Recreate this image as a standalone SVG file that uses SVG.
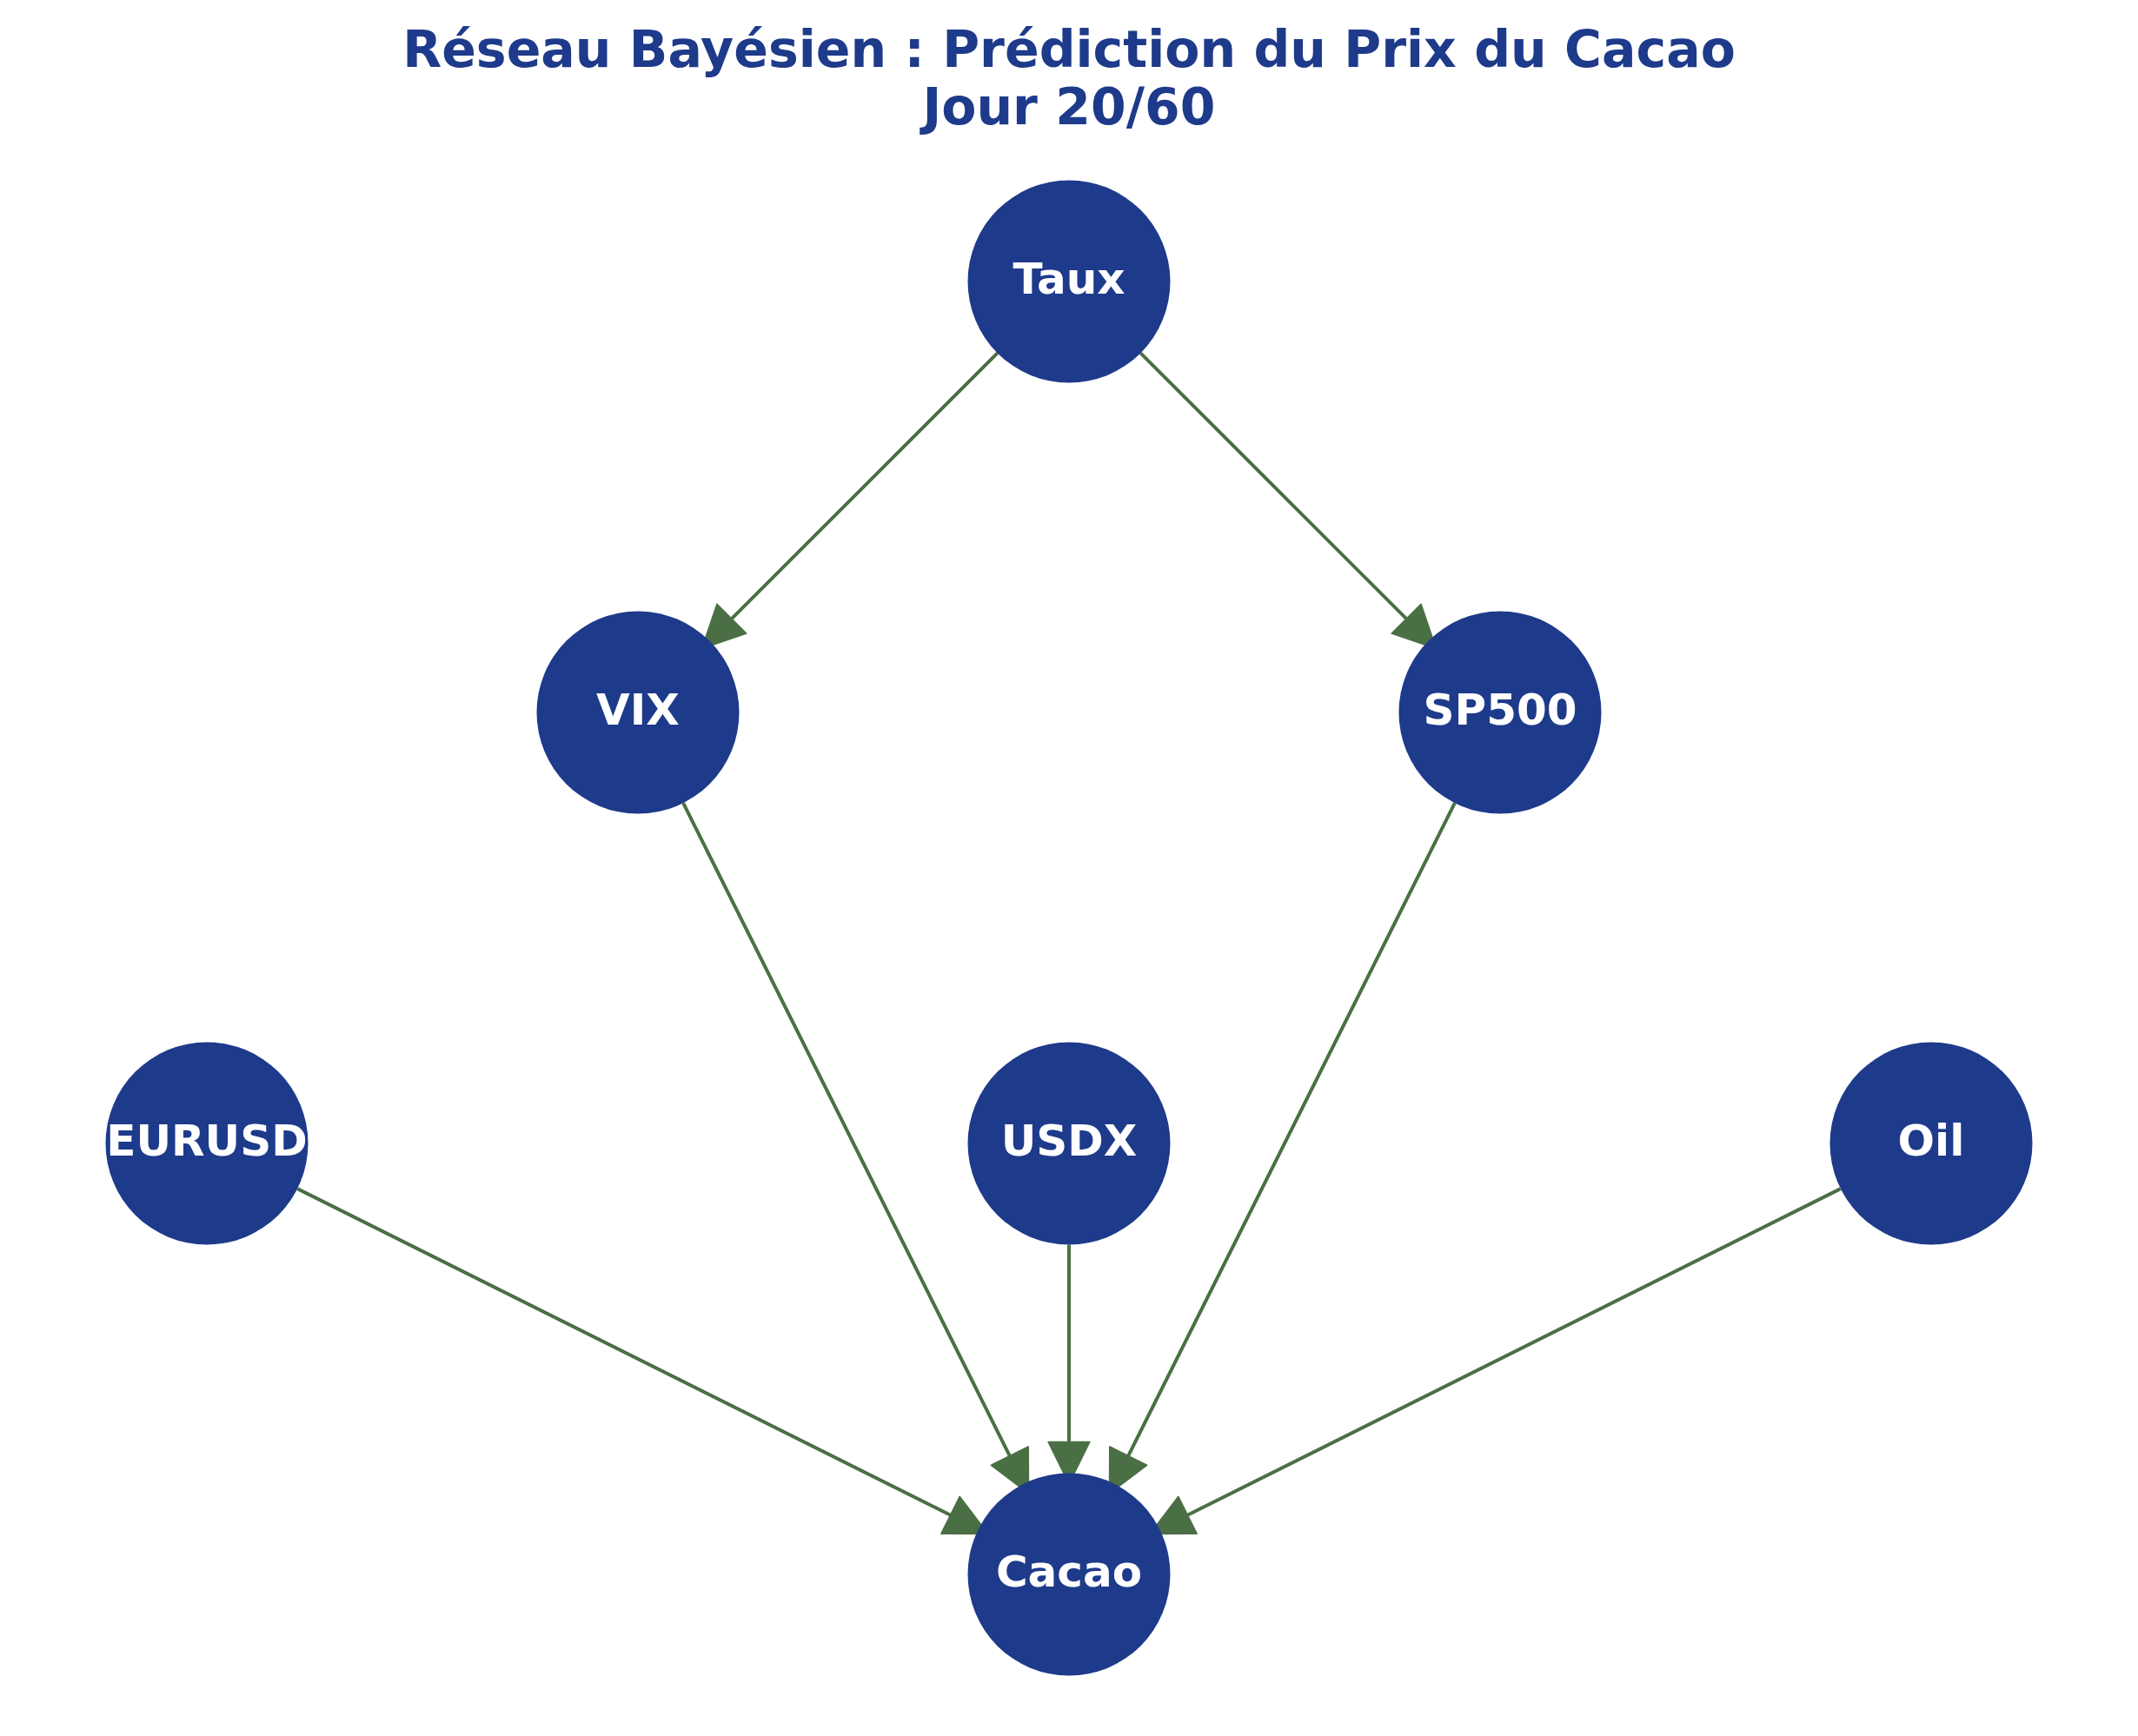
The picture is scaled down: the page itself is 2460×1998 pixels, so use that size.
<svg xmlns="http://www.w3.org/2000/svg" width="2460" height="1998" viewBox="0 0 2460 1998">
<style>
.title{font-family:"DejaVu Sans",sans-serif;font-weight:bold;font-size:58.5px;fill:#1e3a8a;text-anchor:middle}
.node circle{fill:#1e3a8a}
.node text{font-family:"DejaVu Sans",sans-serif;font-weight:bold;font-size:50px;fill:#ffffff;text-anchor:middle}
.edge{stroke:#4b6f44;stroke-width:4;fill:none;marker-end:url(#arr)}
</style>
<defs>
<marker id="arr" markerUnits="userSpaceOnUse" orient="auto" refX="0" refY="0" markerWidth="60" markerHeight="60" viewBox="-4 -22 44 44" overflow="visible">
<path d="M0,-17.5 L35.5,0 L0,17.5 Z" fill="#4b6f44" stroke="#4b6f44" stroke-width="1.2" stroke-linejoin="round"/>
</marker>
</defs>
<rect width="2460" height="1998" fill="#ffffff"/>
<text class="title" x="1230" y="77">Réseau Bayésien : Prédiction du Prix du Cacao</text>
<text class="title" x="1230" y="143">Jour 20/60</text>
<g id="connectors">
<line class="edge" x1="1147.62" y1="406.38" x2="841.84" y2="712.16"/>
<line class="edge" x1="1312.38" y1="406.38" x2="1618.16" y2="712.16"/>
<line class="edge" x1="786.10" y1="924.20" x2="1161.80" y2="1675.60"/>
<line class="edge" x1="1673.90" y1="924.20" x2="1298.20" y2="1675.60"/>
<line class="edge" x1="342.20" y1="1368.10" x2="1093.60" y2="1743.80"/>
<line class="edge" x1="1230" y1="1432.5" x2="1230" y2="1659.5"/>
<line class="edge" x1="2117.80" y1="1368.10" x2="1366.40" y2="1743.80"/>
</g>
<g id="node-Taux" class="node"><circle cx="1230" cy="324" r="116.5"/><text x="1230" y="338">Taux</text></g>
<g id="node-VIX" class="node"><circle cx="734" cy="820" r="116.5"/><text x="734" y="834">VIX</text></g>
<g id="node-SP500" class="node"><circle cx="1726" cy="820" r="116.5"/><text x="1726" y="834">SP500</text></g>
<g id="node-EURUSD" class="node"><circle cx="238" cy="1316" r="116.5"/><text x="238" y="1330">EURUSD</text></g>
<g id="node-USDX" class="node"><circle cx="1230" cy="1316" r="116.5"/><text x="1230" y="1330">USDX</text></g>
<g id="node-Oil" class="node"><circle cx="2222" cy="1316" r="116.5"/><text x="2222" y="1330">Oil</text></g>
<g id="node-Cacao" class="node"><circle cx="1230" cy="1812" r="116.5"/><text x="1230" y="1826">Cacao</text></g>
</svg>
